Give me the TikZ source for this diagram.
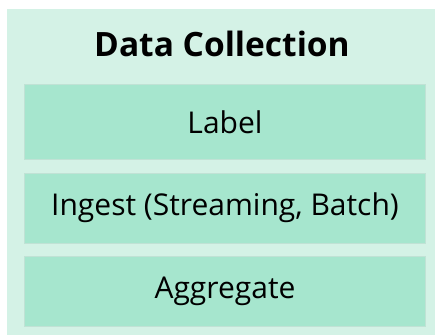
\documentclass[tikz,border=0pt]{standalone}
\usepackage{fontspec}
\setmainfont{Open Sans}
\usetikzlibrary{positioning}
\definecolor{outergreen}{RGB}{212,242,230}
\definecolor{stepgreen}{RGB}{166,230,206}
\tikzset{
	stagebox/.style = {rectangle, fill=stepgreen, draw=stepgreen!90!black!60,
	  line width=0.4pt, minimum width=401pt, inner sep=0pt,
	  font=\fontsize{30}{34}\selectfont}}

\begin{document}
\begin{tikzpicture}[x=1pt, y=-1pt, node distance=13pt]
\useasboundingbox (0,0) rectangle (435,335);

% FRAME
\node (frame) [rectangle, fill=outergreen, minimum width=428pt, minimum height=326pt,
  inner sep=0pt] at (221,172) {};
\node (title) [font=\fontsize{33.5}{38}\selectfont\bfseries] at (222,44) {Data Collection};

% STAGES
\node (label) [stagebox, minimum height=75pt] at (225,122) {Label};
\node (ingest) [stagebox, minimum height=70pt, below=of label] {Ingest (Streaming, Batch)};
\node (aggregate) [stagebox, minimum height=70pt, below=of ingest] {Aggregate};

\end{tikzpicture}
\end{document}
